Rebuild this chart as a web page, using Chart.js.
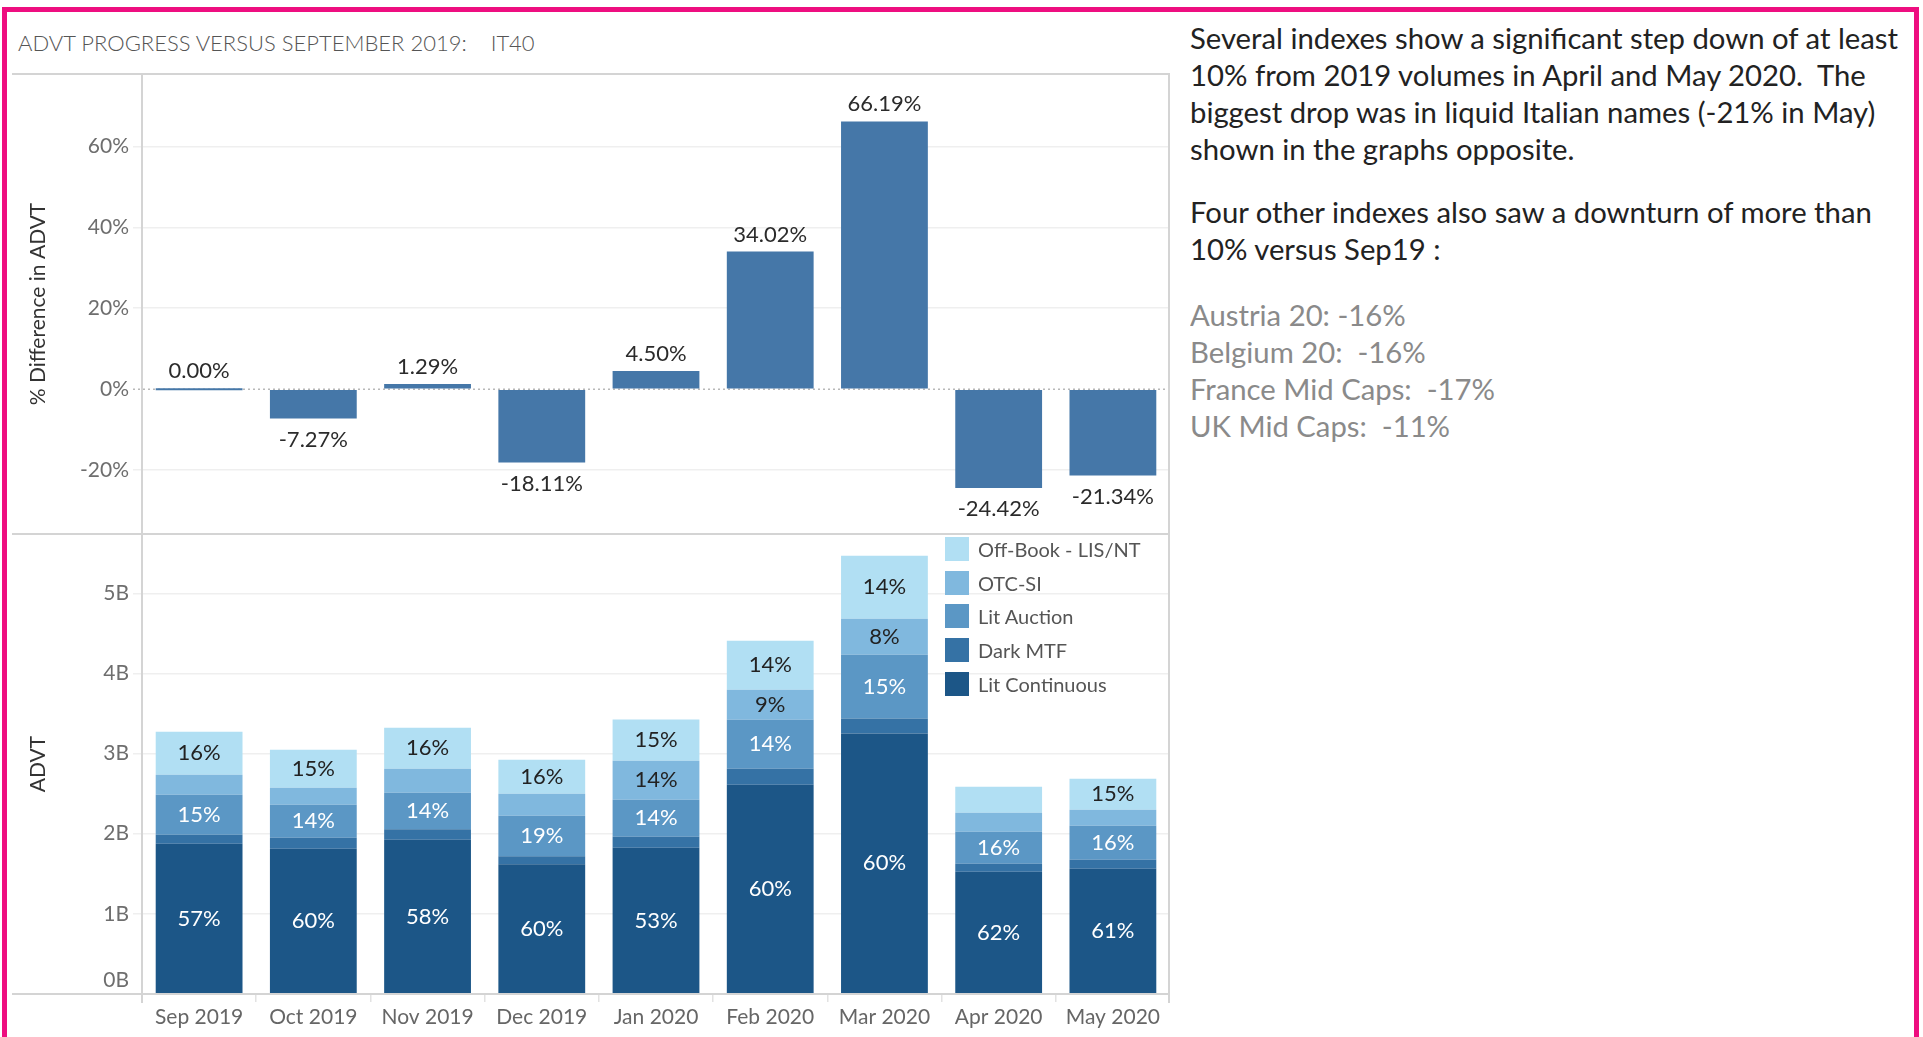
<!DOCTYPE html>
<html>
<head>
<meta charset="utf-8">
<script src="https://cdn.jsdelivr.net/npm/chart.js@4.4.1/dist/chart.umd.min.js"></script>
<style>
  html, body { margin:0; padding:0; background:#fff; width:1923px; height:1037px; overflow:hidden; font-family: Lato, sans-serif; }
  #frame { position:absolute; left:2px; top:7px; width:1917px; height:1100px; border:5px solid #EE0E80; box-sizing:border-box; }
  .ln { position:absolute; background:#d4d4d4; }
  #title { position:absolute; left:18px; top:30px; font-size:22px; line-height:26px; color:#555; white-space:pre; font-weight:300; }
  .cw { position:absolute; }
  .leg { position:absolute; left:945px; width:260px; height:24px; }
  .leg .sw { position:absolute; left:0; top:0; width:24px; height:24px; }
  .leg .tx { position:absolute; left:33px; top:0; line-height:24px; font-size:20px; color:#555; white-space:nowrap; }
  .rt { position:absolute; left:1190px; font-size:28px; line-height:37px; white-space:pre; transform-origin:0 0; }
  .dark { color:#222; }
  .gray { color:#8a8a8a; }
</style>
</head>
<body>
<div id="frame"></div>
<div id="title">ADVT PROGRESS VERSUS SEPTEMBER 2019:    IT40</div>

<div class="cw" style="left:12px;top:74px;width:1158px;height:460px;"><canvas id="up" width="1158" height="460" style="width:1158px;height:460px;"></canvas></div>
<div class="cw" style="left:12px;top:534px;width:1158px;height:503px;"><canvas id="lo" width="1158" height="503" style="width:1158px;height:503px;"></canvas></div>

<div class="ln" style="left:12px;top:73px;width:1158px;height:2px;"></div>
<div class="ln" style="left:12px;top:533px;width:1158px;height:2px;"></div>
<div class="ln" style="left:12px;top:993px;width:1158px;height:2px;"></div>
<div class="ln" style="left:141px;top:74px;width:2px;height:929px;"></div>
<div class="ln" style="left:1168px;top:74px;width:2px;height:929px;"></div>

<div id="legend"></div>

<div class="rt dark" id="p1" style="top:20px;">Several indexes show a significant step down of at least
10% from 2019 volumes in April and May 2020.  The
biggest drop was in liquid Italian names (-21% in May)
shown in the graphs opposite.</div>
<div class="rt dark" id="p2" style="top:194px;">Four other indexes also saw a downturn of more than
10% versus Sep19 :</div>
<div class="rt gray" id="p3" style="top:297px;">Austria 20: -16%
Belgium 20:  -16%
France Mid Caps:  -17%
UK Mid Caps:  -11%</div>

<script>
// ---------- DATA ----------
const months = ['Sep 2019','Oct 2019','Nov 2019','Dec 2019','Jan 2020','Feb 2020','Mar 2020','Apr 2020','May 2020'];
const pctDiff = [0.00, -7.27, 1.29, -18.11, 4.50, 34.02, 66.19, -24.42, -21.34];

// ADVT in billions, per venue type (bottom to top)
const litContinuous = [1.876, 1.813, 1.926, 1.618, 1.826, 2.612, 3.252, 1.526, 1.564];
const darkMTF       = [0.112, 0.137, 0.129, 0.100, 0.137, 0.200, 0.187, 0.100, 0.112];
const litAuction    = [0.499, 0.412, 0.457, 0.507, 0.462, 0.611, 0.794, 0.399, 0.424];
const otcSI         = [0.250, 0.212, 0.299, 0.274, 0.487, 0.374, 0.449, 0.237, 0.200];
const offBook       = [0.536, 0.474, 0.512, 0.424, 0.512, 0.611, 0.786, 0.324, 0.387];

// share labels shown on the segments (null = not shown)
const litContinuousShare = [57, 60, 58, 60, 53, 60, 60, 62, 61];
const darkMTFShare       = [null, null, null, null, null, null, null, null, null];
const litAuctionShare    = [15, 14, 14, 19, 14, 14, 15, 16, 16];
const otcSIShare         = [null, null, null, null, 14, 9, 8, null, null];
const offBookShare       = [16, 15, 16, 16, 15, 14, 14, null, 15];

const seriesNames = ['Lit Continuous', 'Dark MTF', 'Lit Auction', 'OTC-SI', 'Off-Book - LIS/NT'];
const pctTicks = [-20, 0, 20, 40, 60];
const advtTicks = [0, 1, 2, 3, 4, 5];

// ---------- STYLE ----------
const seriesColors = ['#1c5687', '#3572a5', '#5b97c5', '#80b8de', '#b1dff3'];
const labelColors  = ['#ffffff', '#ffffff', '#ffffff', '#222222', '#222222'];
const upColor = '#4577a8';
const FONT = 'Lato';
const LABEL_SIZE = 22, TICK_SIZE = 21, AXTITLE_SIZE = 21;
Chart.defaults.font.family = FONT;
Chart.defaults.devicePixelRatio = 1;

// legend (top = last series)
(function(){
  const lg = document.getElementById('legend');
  for (let k = seriesNames.length - 1, r = 0; k >= 0; k--, r++) {
    const d = document.createElement('div');
    d.className = 'leg';
    d.style.top = (537 + r * 33.7) + 'px';
    d.innerHTML = '<div class="sw" style="background:' + seriesColors[k] + '"></div><div class="tx">' + seriesNames[k] + '</div>';
    lg.appendChild(d);
  }
})();

// fit right text width
(function(){
  const p1 = document.getElementById('p1');
  const w = p1.getBoundingClientRect().width;
  const s = 708 / w;
  ['p1','p2','p3'].forEach(id => { document.getElementById(id).style.transform = 'scaleX(' + s + ')'; });
})();

function noPad(s) { s.paddingTop = 0; s.paddingBottom = 0; s.paddingLeft = 0; s.paddingRight = 0; }

const zeroLine = {
  id: 'zeroLine',
  beforeDatasetsDraw(chart) {
    const y = chart.scales.y.getPixelForValue(0);
    const ctx = chart.ctx, a = chart.chartArea;
    ctx.save();
    ctx.strokeStyle = '#b8b8b8';
    ctx.lineWidth = 1.5;
    ctx.setLineDash([2, 3]);
    ctx.beginPath(); ctx.moveTo(a.left - 9, y); ctx.lineTo(a.right, y); ctx.stroke();
    ctx.restore();
  }
};

const upLabels = {
  id: 'upLabels',
  afterDatasetsDraw(chart) {
    const ctx = chart.ctx;
    const meta = chart.getDatasetMeta(0);
    ctx.save();
    ctx.font = LABEL_SIZE + 'px ' + FONT;
    ctx.fillStyle = '#2b2b2b';
    ctx.textAlign = 'center';
    ctx.textBaseline = 'middle';
    meta.data.forEach((el, i) => {
      const v = pctDiff[i];
      const top = Math.min(el.y, el.base), bot = Math.max(el.y, el.base);
      const y = v >= 0 ? top - 17 : bot + 21;
      ctx.fillText(v.toFixed(2) + '%', el.x, y);
    });
    ctx.restore();
  }
};

const shares = [litContinuousShare, darkMTFShare, litAuctionShare, otcSIShare, offBookShare];
const loLabels = {
  id: 'loLabels',
  afterDatasetsDraw(chart) {
    const ctx = chart.ctx;
    ctx.save();
    ctx.font = LABEL_SIZE + 'px ' + FONT;
    ctx.textAlign = 'center';
    ctx.textBaseline = 'middle';
    shares.forEach((arr, d) => {
      const meta = chart.getDatasetMeta(d);
      ctx.fillStyle = labelColors[d];
      meta.data.forEach((el, i) => {
        if (arr[i] == null) return;
        ctx.fillText(arr[i] + '%', el.x, (el.y + el.base) / 2);
      });
    });
    // 0B label kept inside pane, as in the original
    const ys = chart.scales.y;
    ctx.font = TICK_SIZE + 'px ' + FONT;
    ctx.fillStyle = '#6e6e6e';
    ctx.textAlign = 'right';
    ctx.fillText('0B', ys.right - 13, ys.getPixelForValue(0) - 14);
    ctx.restore();
  }
};

new Chart(document.getElementById('up'), {
  type: 'bar',
  data: { labels: months, datasets: [{ data: pctDiff, backgroundColor: upColor, barPercentage: 0.76, categoryPercentage: 1, minBarLength: 2 }] },
  options: {
    responsive: false, animation: false,
    layout: { padding: 0 },
    plugins: { legend: { display: false }, tooltip: { enabled: false } },
    scales: {
      x: { display: false, afterFit: noPad },
      y: {
        min: -35.8, max: 77.9,
        afterBuildTicks: s => { s.ticks = pctTicks.map(v => ({ value: v })); },
        afterFit: s => { s.width = 130; noPad(s); },
        grid: { color: c => (c.tick && c.tick.value === 0) ? 'rgba(0,0,0,0)' : '#efefef', lineWidth: 1.5, tickLength: 9 },
        border: { display: false },
        ticks: { callback: v => v + '%', color: '#6e6e6e', font: { size: TICK_SIZE }, padding: 4 },
        title: { display: true, text: '% Difference in ADVT', color: '#333', font: { size: AXTITLE_SIZE }, padding: { top: 14, bottom: 0 } }
      }
    }
  },
  plugins: [zeroLine, upLabels]
});

const loData = [litContinuous, darkMTF, litAuction, otcSI, offBook];
new Chart(document.getElementById('lo'), {
  type: 'bar',
  data: {
    labels: months,
    datasets: loData.map((arr, k) => ({ label: seriesNames[k], data: arr, backgroundColor: seriesColors[k], barPercentage: 0.76, categoryPercentage: 1 }))
  },
  options: {
    responsive: false, animation: false,
    layout: { padding: 0 },
    plugins: { legend: { display: false }, tooltip: { enabled: false } },
    scales: {
      x: {
        stacked: true,
        afterFit: s => { s.height = 43; noPad(s); },
        grid: { display: true, drawOnChartArea: false, offset: true, tickLength: 8, color: '#e2e2e2', lineWidth: 1.5 },
        border: { display: false },
        ticks: { color: '#666', font: { size: TICK_SIZE }, padding: 3, maxRotation: 0, autoSkip: false }
      },
      y: {
        stacked: true, min: 0, max: 5.74,
        afterBuildTicks: s => { s.ticks = advtTicks.map(v => ({ value: v })); },
        afterFit: s => { s.width = 130; noPad(s); },
        grid: { color: c => (c.tick && c.tick.value === 0) ? 'rgba(0,0,0,0)' : '#efefef', lineWidth: 1.5, tickLength: 9 },
        border: { display: false },
        ticks: { callback: v => v === 0 ? '' : v + 'B', color: '#6e6e6e', font: { size: TICK_SIZE }, padding: 4 },
        title: { display: true, text: 'ADVT', color: '#333', font: { size: AXTITLE_SIZE }, padding: { top: 14, bottom: 0 } }
      }
    }
  },
  plugins: [loLabels]
});
</script>
</body>
</html>
